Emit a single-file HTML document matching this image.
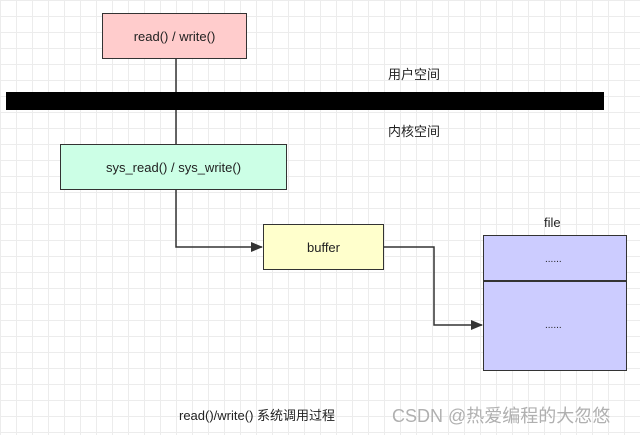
<!DOCTYPE html>
<html><head><meta charset="utf-8"><style>
body{margin:0;}
.c{position:relative;width:640px;height:435px;overflow:hidden;background-color:#fff;
background-image:linear-gradient(#ececec 1px,transparent 1px),linear-gradient(90deg,#ececec 1px,transparent 1px);background-size:16px 16px;
font-family:"Liberation Sans","Noto Sans CJK SC",sans-serif;font-size:13px;color:#222;}
.b{position:absolute;box-sizing:border-box;border:1.5px solid #333;display:flex;align-items:center;justify-content:center;}
.t{position:absolute;white-space:nowrap;}
</style></head><body><div class="c">
<svg width="640" height="435" style="position:absolute;left:0;top:0">
<defs><marker id="a" markerWidth="12" markerHeight="10" refX="11" refY="5" orient="auto" markerUnits="userSpaceOnUse"><path d="M0,0 L12,5 L0,10 Z" fill="#333"/></marker></defs>
<line x1="176" y1="58" x2="176" y2="144" stroke="#333" stroke-width="1.5"/>
<polyline points="176,189 176,247 262,247" fill="none" stroke="#333" stroke-width="1.5" marker-end="url(#a)"/>
<polyline points="384,247 434,247 434,325 482,325" fill="none" stroke="#333" stroke-width="1.5" marker-end="url(#a)"/>
</svg>
<div style="position:absolute;left:6px;top:92px;width:598px;height:18px;background:#000;"></div>
<div class="b" style="left:102px;top:13px;width:145px;height:46px;background:#ffcccc;">read() / write()</div>
<div class="b" style="left:60px;top:144px;width:227px;height:46px;background:#ccffe6;">sys_read() / sys_write()</div>
<div class="b" style="left:263px;top:224px;width:121px;height:46px;background:#ffffcc;">buffer</div>
<div class="b" style="left:483px;top:235px;width:144px;height:136px;background:#ccccff;display:block;"></div>
<div style="position:absolute;left:483px;top:280px;width:144px;height:1.5px;background:#333;"></div>
<div class="t" style="left:545px;top:254px;font-size:10px;">......</div>
<div class="t" style="left:545px;top:320px;font-size:10px;">......</div>
<div class="t" style="left:544px;top:215px;">file</div>
<div class="t" style="left:388px;top:64px;">用户空间</div>
<div class="t" style="left:388px;top:121px;">内核空间</div>
<div class="t" style="left:179px;top:405px;">read()/write() 系统调用过程</div>
<div class="t" style="left:392px;top:402px;font-size:18px;color:#b0b0b0;">CSDN @热爱编程的大忽悠</div>
</div></body></html>
